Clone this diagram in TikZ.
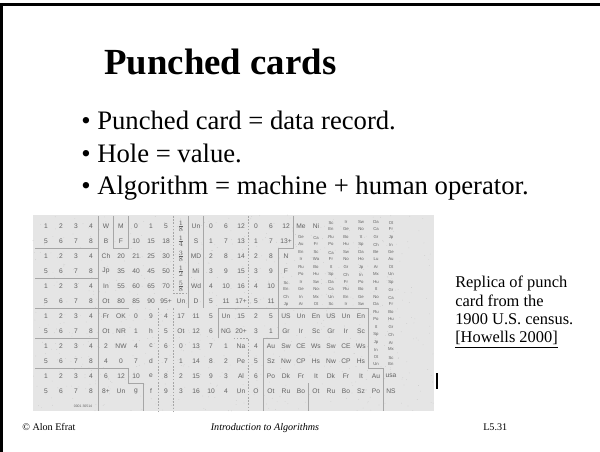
\documentclass[tikz,border=0pt]{standalone}
\usepackage{fontspec}
\setmainfont{Liberation Serif}
\newfontfamily\cardfont{Liberation Sans}
\definecolor{cardbg}{gray}{0.90}
\definecolor{cardink}{gray}{0.38}
\newcommand{\sy}[2]{{\fontsize{3.2}{3.2}\selectfont\shortstack{#1\\#2}}}
\newcommand{\fr}[2]{$\frac{#1}{#2}$}

\tikzset{
  cell/.style={font=\cardfont\fontsize{5}{5}\selectfont, text=cardink, inner sep=0pt},
  cardrule/.style={draw=gray!70, line width=0.5pt},
  carddash/.style={cardrule, dashed, dash pattern=on 1.2pt off 1.2pt},
  bullet/.style={anchor=base west, inner sep=0pt, font=\fontsize{20}{24}\selectfont},
  caption/.style={anchor=base west, inner sep=0pt, font=\fontsize{12.3}{14}\selectfont},
  footer/.style={anchor=base west, inner sep=0pt, font=\fontsize{7.6}{9}\selectfont}
}

\begin{document}
\begin{tikzpicture}[x=0.75pt,y=-0.75pt]
  \useasboundingbox (0,0) rectangle (600,452);
  \draw[line width=1.6pt] (1.5,452) |- (600,4.5);

  \node[anchor=base west, inner sep=0pt, font=\fontsize{27.6}{32}\selectfont\bfseries] (title) at (104,75) {Punched cards};
  \node[bullet] (b1) at (81,130) {• Punched card = data record.};
  \node[bullet] (b2) at (81,162.5) {• Hole = value.};
  \node[bullet] (b3) at (81,195) {• Algorithm = machine + human operator.};

  % the census card
  \fill[cardbg] (33,215) rectangle (434,411);
  \pgfmathsetseed{7}
  \foreach \i in {1,...,700}{
    \pgfmathsetmacro\px{33+401*rnd}
    \pgfmathsetmacro\py{215+196*rnd}
    \fill[gray!45] (\px,\py) circle (0.35);
  }
  \foreach \line [count=\r] in {
    {1,2,3,4,W,M,0,1,5,\fr18,Un,0,6,12,0,6,12,Me,Ni,\sy{Sc}{En},\sy{Ir}{Ge},\sy{Sw}{No},\sy{Da}{Ca},\sy{Ot}{Fr}},
    {5,6,7,8,B,F,10,15,18,\fr14,S,1,7,13,1,7,13+,\sy{Ge}{Au},\sy{Ca}{Fr},\sy{Ru}{Po},\sy{Bo}{Hu},\sy{It}{Sp},\sy{Gr}{Ch},\sy{Jp}{In}},
    {1,2,3,4,Ch,20,21,25,30,\fr38,MD,2,8,14,2,8,N,\sy{En}{Ir},\sy{Sc}{Wa},\sy{Ca}{Fr},\sy{Sw}{No},\sy{Da}{Ho},\sy{Be}{Lu},\sy{Ge}{Au}},
    {5,6,7,8,Jp,35,40,45,50,\fr12,Mi,3,9,15,3,9,F,\sy{Ru}{Po},\sy{Bo}{Hu},\sy{It}{Sp},\sy{Gr}{Ch},\sy{Jp}{In},\sy{Ar}{Mx},\sy{Ot}{Un}},
    {1,2,3,4,In,55,60,65,70,\fr58,Wd,4,10,16,4,10,\sy{Sc}{En},\sy{Ir}{Ge},\sy{Sw}{No},\sy{Da}{Ca},\sy{Fr}{Ru},\sy{Po}{Bo},\sy{Hu}{It},\sy{Sp}{Gr}},
    {5,6,7,8,Ot,80,85,90,95+,Un,D,5,11,17+,5,11,\sy{Ch}{Jp},\sy{In}{Ar},\sy{Mx}{Ot},\sy{Un}{Sc},\sy{En}{Ir},\sy{Ge}{Sw},\sy{No}{Da},\sy{Ca}{Fr}},
    {1,2,3,4,Fr,OK,0,9,4,17,11,5,Un,15,2,5,US,Un,En,US,Un,En,\sy{Ru}{Po},\sy{Bo}{Hu}},
    {5,6,7,8,Ot,NR,1,h,5,Ot,12,6,NG,20+,3,1,Gr,Ir,Sc,Gr,Ir,Sc,\sy{It}{Sp},\sy{Gr}{Ch}},
    {1,2,3,4,2,NW,4,c,6,0,13,7,1,Na,4,Au,Sw,CE,Ws,Sw,CE,Ws,\sy{Jp}{In},\sy{Ar}{Mx}},
    {5,6,7,8,4,0,7,d,7,1,14,8,2,Pe,5,Sz,Nw,CP,Hs,Nw,CP,Hs,\sy{Ot}{Un},\sy{Sc}{En}},
    {1,2,3,4,6,12,10,e,8,2,15,9,3,Al,6,Po,Dk,Fr,It,Dk,Fr,It,Au,usa},
    {5,6,7,8,8+,Un,g,f,9,3,16,10,4,Un,O,Ot,Ru,Bo,Ot,Ru,Bo,Sz,Po,NS}}{
    \foreach \t [count=\c] in \line
      \node[cell] (cell-\r-\c) at ({46+15*(\c-1)},{226+15*(\r-1)}) {\t};
  }
  \node[cell, font=\cardfont\fontsize{2.6}{3}\selectfont] (serial) at (83,406) {0001 30514};

  \foreach \y in {248.5,278.5,308.5,338.5,368.5}
    \draw[cardrule] (35,\y) -- (98.5,\y);
  \draw[cardrule] (98.5,216) -- (98.5,411);
  \draw[cardrule] (113.5,216) -- (113.5,248.5) -- (128.5,248.5) -- (128.5,216);
  \draw[cardrule] (98.5,308.5) -- (128.5,308.5);
  \draw[carddash] (173.5,216) -- (173.5,293.5) -- (188.5,293.5);
  \draw[cardrule] (188.5,216) -- (188.5,308.5);
  \draw[cardrule] (203.5,216) -- (203.5,308.5);
  \draw[carddash] (248.5,216) -- (248.5,308.5);
  \draw[cardrule] (293.5,216) -- (293.5,248.5) -- (278.5,248.5) -- (278.5,308.5);
  \draw[cardrule] (218.5,338.5) -- (218.5,308.5) -- (368.5,308.5) -- (368.5,368.5) -- (383.5,368.5) -- (383.5,411);
  \draw[carddash] (158.5,308.5) -- (158.5,411);
  \draw[carddash] (173.5,308.5) -- (173.5,411);
  \draw[carddash] (233.5,338.5) -- (248.5,338.5) -- (248.5,411);
  \draw[cardrule] (263.5,411) -- (263.5,338.5) -- (278.5,338.5) -- (278.5,308.5);
  \draw[cardrule] (98.5,368.5) -- (128.5,368.5) -- (128.5,383.5) -- (143.5,383.5) -- (143.5,411);
  \draw[cardrule] (308.5,383.5) -- (308.5,411);
  \fill[black] (436,373) rectangle (438,389);

  \foreach \txt [count=\k] in {Replica of punch, card from the, 1900 U.S. census., \underline{[Howells 2000]}}
    \node[caption] (cap\k) at (455,{288+18.3*(\k-1)}) {\txt};

  \node[footer] (copy) at (22,430) {© Alon Efrat};
  \node[footer, anchor=base, font=\fontsize{7.6}{9}\selectfont\itshape] (course) at (265,430) {Introduction to Algorithms};
  \node[footer] (slide) at (483,430) {L5.31};
\end{tikzpicture}
\end{document}
